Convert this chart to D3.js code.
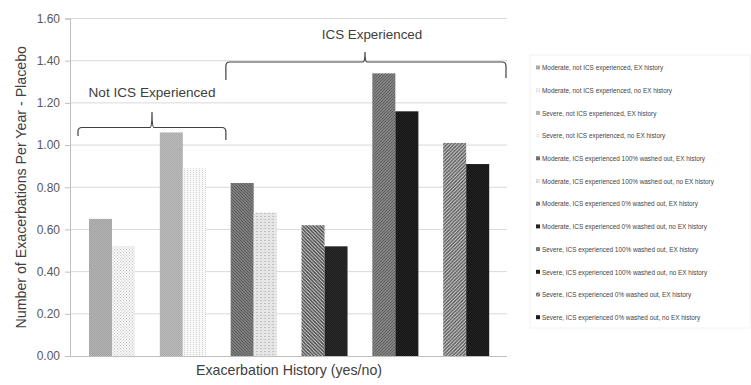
<!DOCTYPE html>
<html><head><meta charset="utf-8">
<script src="https://cdn.jsdelivr.net/npm/d3@7"></script>
<style>body{margin:0;background:#fff}svg{display:block}text{font-family:"Liberation Sans",Arial,sans-serif}</style>
</head><body><div id="chart"></div>
<script>
const groups = ["Moderate, not ICS experienced","Severe, not ICS experienced","Moderate, ICS experienced 100% washed out","Moderate, ICS experienced 0% washed out","Severe, ICS experienced 100% washed out","Severe, ICS experienced 0% washed out"];
const history = ["EX history","no EX history"];
const seriesNames = [
 "Moderate, not ICS experienced, EX history",
 "Moderate, not ICS experienced, no EX history",
 "Severe, not ICS experienced, EX history",
 "Severe, not ICS experienced, no EX history",
 "Moderate, ICS experienced 100% washed out, EX history",
 "Moderate, ICS experienced 100% washed out, no EX history",
 "Moderate, ICS experienced 0% washed out, EX history",
 "Moderate, ICS experienced 0% washed out, no EX history",
 "Severe, ICS experienced 100% washed out, EX history",
 "Severe, ICS experienced 100% washed out, no EX history",
 "Severe, ICS experienced 0% washed out, EX history",
 "Severe, ICS experienced 0% washed out, no EX history"];
const values = [0.65,0.52,1.06,0.89,0.82,0.68,0.62,0.52,1.34,1.16,1.01,0.91];
const yTicks = [0,0.2,0.4,0.6,0.8,1.0,1.2,1.4,1.6];
const yTitle = "Number of Exacerbations Per Year - Placebo";
const xTitle = "Exacerbation History (yes/no)";
const bracketLabels = ["Not ICS Experienced","ICS Experienced"];

const W=751,H=385;
const svg=d3.select("#chart").append("svg").attr("width",W).attr("height",H);
const defs=svg.append("defs");

function pat(id,w,h,bg,draw){
  const p=defs.append("pattern").attr("id",id).attr("patternUnits","userSpaceOnUse").attr("width",w).attr("height",h);
  p.append("rect").attr("width",w).attr("height",h).attr("fill",bg);
  draw(p);
}
function checker(id,bg,fg){pat(id,2,2,bg,p=>{p.append("rect").attr("width",1).attr("height",1).attr("fill",fg);p.append("rect").attr("x",1).attr("y",1).attr("width",1).attr("height",1).attr("fill",fg);});}
function dots(id,bg,fg,s){pat(id,s,s,bg,p=>{p.append("rect").attr("width",1).attr("height",1).attr("fill",fg);p.append("rect").attr("x",s/2).attr("y",s/2).attr("width",1).attr("height",1).attr("fill",fg);});}
function diag(id,bg,fg,s,sw,dir){pat(id,s,s,bg,p=>{
  if(dir>0){p.append("path").attr("d",`M0,${s} L${s},0 M${-s/2},${s/2} L${s/2},${-s/2} M${s/2},${s*1.5} L${s*1.5},${s/2}`).attr("stroke",fg).attr("stroke-width",sw);}
  else{p.append("path").attr("d",`M0,0 L${s},${s} M${-s/2},${s/2} L${s/2},${s*1.5} M${s/2},${-s/2} L${s*1.5},${s/2}`).attr("stroke",fg).attr("stroke-width",sw);}
});}
checker("p0","#b4b4b4","#a2a2a2");
dots("p1","#f7f7f7","#c4c4c4",3);
checker("p2","#bcbcbc","#aaaaaa");
pat("p3",3,2,"#f8f8f8",p=>{p.append("rect").attr("x",1).attr("width",1).attr("height",1).attr("fill","#d0d0d0");});
diag("p4","#8a8a8a","#5c5c5c",3,1.2,-1);
pat("p5",4,3,"#e6e6e6",p=>{p.append("rect").attr("width",2).attr("height",1).attr("fill","#c2c2c2");});
diag("p6","#e4e4e4","#4a4a4a",3.5,1.6,-1);
checker("p7","#1e1e1e","#2a2a2a");
diag("p8","#909090","#606060",3,1.2,1);
checker("p9","#141414","#242424");
diag("p10","#e6e6e6","#5a5a5a",3.5,1.6,1);
checker("p11","#151515","#232323");

const y=d3.scaleLinear().domain([0,1.6]).range([356,18.5]);
const x0=d3.scaleBand().domain(groups).range([76.6,501.6]).paddingInner(0.35).paddingOuter(0.175);
const x1=d3.scaleBand().domain(history).range([0,x0.bandwidth()]);

const plotL=70, plotR=507;
svg.append("g").selectAll("line").data(yTicks.slice(1)).join("line")
  .attr("x1",plotL).attr("x2",plotR).attr("y1",d=>y(d)).attr("y2",d=>y(d))
  .attr("stroke","#d9d9d9").attr("stroke-width",1);

const yAxis=svg.append("g").attr("transform",`translate(${plotL},0)`)
  .call(d3.axisLeft(y).tickValues(yTicks).tickFormat(d3.format(".2f")).tickSize(5).tickPadding(5));
yAxis.select(".domain").attr("stroke","#bfbfbf");
yAxis.selectAll(".tick line").attr("stroke","#bfbfbf");
yAxis.selectAll(".tick text").attr("fill","#595959").style("font-size","12px");

const bars=values.map((v,i)=>({v,i,g:groups[Math.floor(i/2)],h:history[i%2]}));
svg.append("g").selectAll("rect").data(bars).join("rect")
  .attr("x",d=>x0(d.g)+x1(d.h)).attr("width",x1.bandwidth())
  .attr("y",d=>y(d.v)).attr("height",d=>y(0)-y(d.v))
  .attr("fill",d=>`url(#p${d.i})`);

svg.append("line").attr("x1",66).attr("x2",plotR).attr("y1",y(0)+0.5).attr("y2",y(0)+0.5).attr("stroke","#bfbfbf");

svg.append("text").attr("transform",`translate(21,${(18.5+356)/2}) rotate(-90)`).attr("text-anchor","middle")
  .attr("dy","0.35em").attr("fill","#404040").style("font-size","14.2px").text(yTitle);
svg.append("text").attr("x",289).attr("y",375).attr("text-anchor","middle").attr("fill","#404040").style("font-size","14.2px").text(xTitle);

function bracket(xa,xb,xm,yh,ytip,yl,yr){
  const r=4;
  const d=`M${xa},${yl} L${xa},${yh+r} Q${xa},${yh} ${xa+r},${yh} L${xm-2},${yh} Q${xm},${yh} ${xm},${ytip} Q${xm},${yh} ${xm+2},${yh} L${xb-r},${yh} Q${xb},${yh} ${xb},${yh+r} L${xb},${yr}`;
  svg.append("path").attr("d",d).attr("fill","none").attr("stroke","#404040").attr("stroke-width",1.2);
}
bracket(x0(groups[0])-11, x0(groups[1])+x0.bandwidth()+20, 152, 127.5, 112, 136, 140);
bracket(x0(groups[1])+x0.bandwidth()+20, plotR-1, 365, 62, 52, 80, 78);
svg.append("text").attr("x",152).attr("y",97).attr("text-anchor","middle").attr("fill","#404040").style("font-size","13.6px").text(bracketLabels[0]);
svg.append("text").attr("x",372).attr("y",39).attr("text-anchor","middle").attr("fill","#404040").style("font-size","13.4px").text(bracketLabels[1]);

const lg=svg.append("g");
lg.append("rect").attr("x",530).attr("y",55).attr("width",220).attr("height",273).attr("fill","none").attr("stroke","#f2f2f2");
const li=lg.selectAll("g").data(seriesNames).join("g").attr("transform",(d,i)=>`translate(536,${68+i*22.7})`);
li.append("rect").attr("x",0).attr("y",-2.5).attr("width",4).attr("height",4).attr("fill",(d,i)=>`url(#p${i})`);
li.append("text").attr("x",6).attr("y",0).attr("dy","0.35em").attr("fill","#444").style("font-size","6.4px").text(d=>d);
</script></body></html>
